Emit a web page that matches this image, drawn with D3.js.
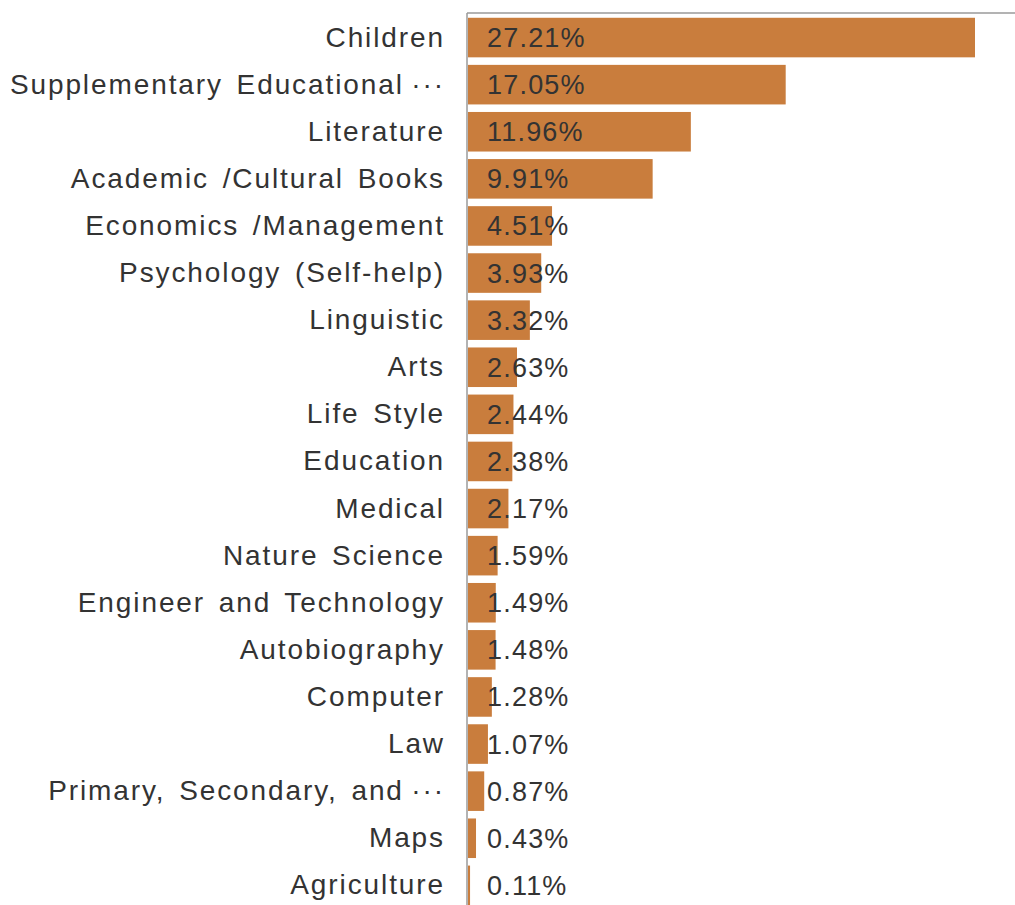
<!DOCTYPE html>
<html>
<head>
<meta charset="utf-8">
<script src="https://cdn.jsdelivr.net/npm/d3@7"></script>
<style>
  html, body { margin: 0; padding: 0; background: #ffffff; }
  svg { display: block; }
  text { font-family: "Liberation Sans", Arial, sans-serif; fill: #333333; }
</style>
</head>
<body>
<svg id="chart" width="1015" height="905"></svg>
<script>
// Share of titles by book category (%)
const categories = [
  "Children",
  "Supplementary Educational\u2009\u00b7\u00b7\u00b7",
  "Literature",
  "Academic /Cultural Books",
  "Economics /Management",
  "Psychology (Self-help)",
  "Linguistic",
  "Arts",
  "Life Style",
  "Education",
  "Medical",
  "Nature Science",
  "Engineer and Technology",
  "Autobiography",
  "Computer",
  "Law",
  "Primary, Secondary, and\u2009\u00b7\u00b7\u00b7",
  "Maps",
  "Agriculture"
];
const shares = [27.21, 17.05, 11.96, 9.91, 4.51, 3.93, 3.32, 2.63, 2.44, 2.38,
                2.17, 1.59, 1.49, 1.48, 1.28, 1.07, 0.87, 0.43, 0.11];

const rows = categories.map((c, i) => ({ category: c, share: shares[i] }));

const svg = d3.select("#chart");
const W = 1015, H = 905;
const plotLeft = 467, plotTop = 13;

const x = d3.scaleLinear()
  .domain([0, d3.max(shares)])
  .range([plotLeft + 1, 975]);

const y = d3.scaleBand()
  .domain(categories)
  .range([plotTop + 1, plotTop + 1 + 19 * 47.1])
  .paddingInner(0.16)
  .paddingOuter(0.08);

// bars
svg.append("g")
  .selectAll("rect")
  .data(rows)
  .join("rect")
  .attr("x", x(0))
  .attr("y", d => y(d.category))
  .attr("width", d => x(d.share) - x(0))
  .attr("height", y.bandwidth())
  .attr("fill", "#c97d3d");

// frame lines: top edge and category axis
svg.append("line")
  .attr("x1", plotLeft).attr("x2", W)
  .attr("y1", plotTop).attr("y2", plotTop)
  .attr("stroke", "#9a9a9a").attr("stroke-width", 1.5);

const yAxis = d3.axisLeft(y).tickSize(0).tickPadding(22);
const gy = svg.append("g")
  .attr("transform", `translate(${plotLeft},0)`)
  .call(yAxis);
gy.select(".domain").remove();
gy.append("line")
  .attr("x1", 0).attr("x2", 0)
  .attr("y1", plotTop).attr("y2", H)
  .attr("stroke", "#9a9a9a").attr("stroke-width", 1.5);
gy.selectAll("text")
  .attr("fill", "#333333")
  .style("font-family", "'Liberation Sans', Arial, sans-serif")
  .style("font-size", "28px")
  .style("letter-spacing", "1.9px")
  .style("word-spacing", "4px");

// value labels
svg.append("g")
  .selectAll("text")
  .data(rows)
  .join("text")
  .attr("x", x(0) + 19)
  .attr("y", d => y(d.category) + y.bandwidth() / 2)
  .attr("dy", "0.35em")
  .style("font-size", "27px")
  .style("letter-spacing", "1.2px")
  .text(d => d.share.toFixed(2) + "%");
</script>
</body>
</html>
